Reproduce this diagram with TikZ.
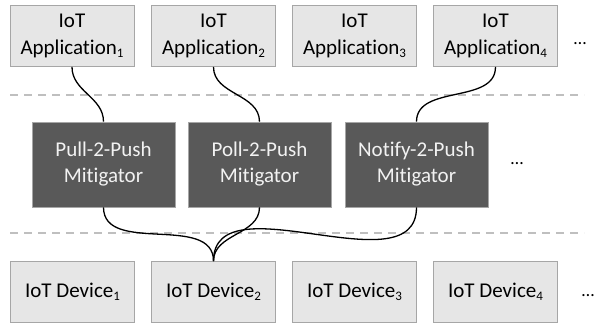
\documentclass[tikz,border=0pt]{standalone}
\usepackage{fontspec}
\setmainfont{Carlito}[Ligatures=NoCommon]
\definecolor{boxfill}{HTML}{E6E6E6}
\definecolor{boxedge}{HTML}{A6A6A6}
\definecolor{mitfill}{HTML}{595959}
\definecolor{sepgray}{HTML}{BFBFBF}
\newcommand{\lowidx}[1]{\raisebox{-0.3ex}{\fontsize{13}{13}\selectfont #1}}

\begin{document}
\begin{tikzpicture}[x=1pt,y=1pt,
    lightbox/.style={draw=boxedge, fill=boxfill, line width=0.9pt, minimum width=124pt,
        minimum height=61pt, inner sep=0pt, align=center, font=\fontsize{21}{27}\selectfont},
    mitbox/.style={draw=boxedge, fill=mitfill, line width=0.6pt, minimum width=143pt,
        minimum height=85pt, inner sep=0pt, align=center, text=white!95!black,
        font=\fontsize{21}{26}\selectfont},
    wire/.style={line width=1.3pt, black},
    sepline/.style={sepgray, line width=1.4pt, dash pattern=on 8pt off 6pt},
    moredots/.style={font=\fontsize{18}{20}\selectfont}]
    \useasboundingbox (0,0) rectangle (595,-326);

    % applications
    \node[lightbox] (app1) at (72,-36) {IoT\\Application\lowidx{1}};
    \node[lightbox] (app2) at (213.5,-36) {IoT\\Application\lowidx{2}};
    \node[lightbox] (app3) at (354.5,-36) {IoT\\Application\lowidx{3}};
    \node[lightbox] (app4) at (495.5,-36) {IoT\\Application\lowidx{4}};
    \node[moredots] (appmore) at (580,-44) {\ldots};

    % mitigators
    \node[mitbox] (pull) at (103.5,-164.5) {Pull-2-Push\\Mitigator};
    \node[mitbox] (poll) at (259.5,-164.5) {Poll-2-Push\\Mitigator};
    \node[mitbox] (notify) at (416.5,-164.5) {Notify-2-Push\\Mitigator};
    \node[moredots] (mitmore) at (517,-164) {\ldots};

    % devices
    \node[lightbox] (dev1) at (72.5,-292) {IoT Device\lowidx{1}};
    \node[lightbox] (dev2) at (213.5,-292) {IoT Device\lowidx{2}};
    \node[lightbox] (dev3) at (354.5,-292) {IoT Device\lowidx{3}};
    \node[lightbox] (dev4) at (495.5,-292) {IoT Device\lowidx{4}};
    \node[moredots] (devmore) at (588,-296) {\ldots};

    % layer separators
    \draw[sepline] (10,-95) -- (584,-95);
    \draw[sepline] (10,-233) -- (584,-233);

    \draw[wire] (app1.south) to[out=-90,in=90] (pull.north);
    \draw[wire] (app2.south) to[out=-90,in=90] (poll.north);
    \draw[wire] (app4.south) to[out=-90,in=90] (notify.north);
    \draw[wire] (pull.south) to[out=-90,in=90] (dev2.north);
    \draw[wire] (poll.south) to[out=-90,in=90] (dev2.north);
    \draw[wire] (notify.south) to[out=-90,in=90] (dev2.north);
\end{tikzpicture}
\end{document}
